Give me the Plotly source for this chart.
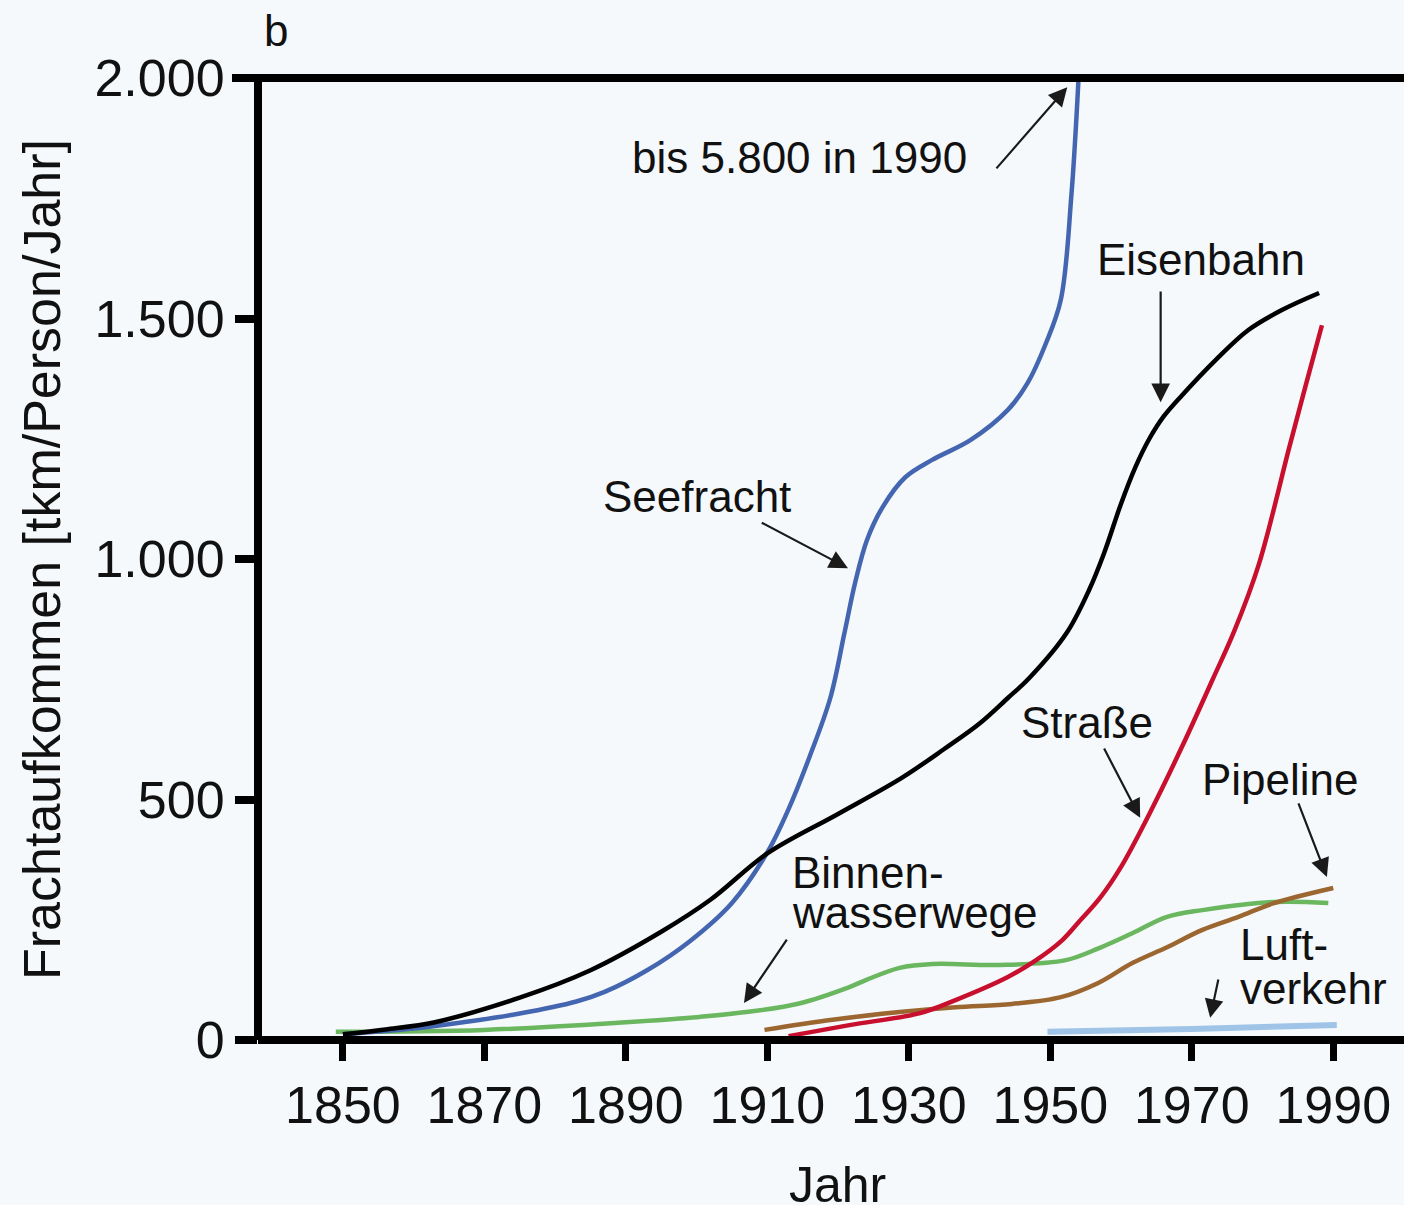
import plotly.graph_objects as go

# ---------------- data ----------------
see_years = [1850, 1860, 1867, 1875, 1883, 1887, 1893, 1899, 1905, 1910, 1913, 1916, 1918.9, 1920.9,
             1922.4, 1924.1, 1926.3, 1929.5, 1933.3, 1938.7, 1944, 1946.8, 1949.4, 1951.5, 1953, 1954, 1955]
see_vals = [12, 24, 37, 55, 80, 100, 145, 205, 285, 390, 480, 590, 711, 846,
            950, 1040, 1108, 1170, 1206, 1247, 1310, 1366, 1449, 1540, 1760, 2000, 2300]

bahn_years = [1850, 1856, 1863, 1875, 1885, 1895, 1902, 1910, 1920, 1929, 1935, 1940,
              1944, 1947, 1952.3, 1955.5, 1957.6, 1960, 1962, 1964, 1966, 1968.6, 1973.4, 1978,
              1982.8, 1988]
bahn_vals = [12, 22, 37, 88, 145, 225, 292, 388, 470, 545, 605, 658,
             711, 752, 846, 936, 1012, 1115, 1190, 1250, 1296, 1340, 1414, 1476,
             1518, 1553]

str_years = [1913, 1921.6, 1931.6, 1936.6, 1944, 1948, 1951.5, 1954, 1957, 1960, 1964,
             1968.6, 1972.9, 1976, 1979.5, 1983.8, 1986.2, 1988.4]
str_vals = [8, 31, 56, 83, 131, 166, 205, 245, 295, 360, 470,
            609, 748, 850, 990, 1233, 1366, 1486]

pipe_years = [1909.6, 1919.2, 1928.7, 1936.6, 1944.6, 1951.5, 1956.7, 1961.6, 1966.5, 1971.5,
              1976.6, 1981.5, 1990]
pipe_vals = [21, 42, 58, 68, 75, 89, 118, 160, 193, 229, 256, 284, 316]

binnen_years = [1849, 1870, 1890, 1900.4, 1907, 1914.5, 1921.6, 1924, 1928.7, 1933.4, 1942.8,
                1952.2, 1956.9, 1961.6, 1966.5, 1971.5, 1981.5, 1989.3]
binnen_vals = [17, 21, 37, 48, 58, 76, 110, 125, 150, 158, 156,
               166, 191, 222, 256, 270, 287, 285]

luft_years = [1949.6, 1970, 1990.5]
luft_vals = [17, 23, 31]

x_tickvals = [1850, 1870, 1890, 1910, 1930, 1950, 1970, 1990]
x_ticktext = ["1850", "1870", "1890", "1910", "1930", "1950", "1970", "1990"]
y_tickvals = [0, 500, 1000, 1500, 2000]
y_ticktext = ["0", "500", "1.000", "1.500", "2.000"]

FONT = "Liberation Sans, Arial, sans-serif"
TXT = "#111111"
BG = "#f5f9fc"

fig = go.Figure()

def add_line(xs, ys, color, width=4.5):
    fig.add_trace(go.Scatter(x=xs, y=ys, mode="lines",
                             line=dict(color=color, width=width, shape="spline", smoothing=1.0),
                             showlegend=False, hoverinfo="skip"))

add_line(luft_years, luft_vals, "#9fc4e8", 6)
add_line(binnen_years, binnen_vals, "#6ab760")
add_line(pipe_years, pipe_vals, "#9c6630")
add_line(str_years, str_vals, "#c8102e")
add_line(see_years, see_vals, "#4466b0")
add_line(bahn_years, bahn_vals, "#000000")

# axis lines drawn as shapes
shapes = [
    dict(type="line", xref="paper", yref="paper", x0=-0.0227, x1=1, y0=1, y1=1,
         line=dict(color="black", width=8), layer="above"),
    dict(type="line", xref="paper", yref="paper", x0=0, x1=1, y0=0, y1=0,
         line=dict(color="black", width=8), layer="above"),
    dict(type="line", xref="paper", yref="paper", x0=0, x1=0, y0=0, y1=1,
         line=dict(color="black", width=8), layer="above"),
]

annotations = []

def label(text, x, y, xanchor="center"):
    annotations.append(dict(text=text, x=x, y=y, xref="x", yref="y", showarrow=False,
                            xanchor=xanchor, yanchor="middle",
                            font=dict(family=FONT, size=44, color=TXT)))

def arrow(tx, ty, hx, hy):
    annotations.append(dict(text="", x=hx, y=hy, ax=tx, ay=ty, xref="x", yref="y",
                            axref="x", ayref="y", showarrow=True, arrowhead=2,
                            arrowsize=1.7, arrowwidth=2.2, arrowcolor="#1a1a1a", standoff=0))

label("bis 5.800 in 1990", 1914.6, 1834)
label("Seefracht", 1900.1, 1129)
label("Eisenbahn", 1971.3, 1622)
label("Straße", 1955.2, 661)
label("Pipeline", 1982.5, 541)
label("Binnen-", 1913.2, 349, "left")
label("wasserwege", 1913.2, 266, "left")
label("Luft-", 1976.6, 198, "left")
label("verkehr", 1976.6, 108, "left")

arrow(1942.2, 1809, 1952.4, 1981)
arrow(1965.6, 1559, 1965.6, 1326)
arrow(1909.0, 1077, 1921.4, 981)
arrow(1957.5, 609, 1962.7, 462)
arrow(1985.0, 495, 1989.1, 339)
arrow(1912.9, 212, 1906.7, 77)
arrow(1973.8, 129, 1972.6, 46)

annotations.append(dict(text="b", x=0.0157, y=1.049, xref="paper", yref="paper",
                        showarrow=False, xanchor="center", yanchor="middle",
                        font=dict(family=FONT, size=44, color=TXT)))
annotations.append(dict(text="Frachtaufkommen [tkm/Person/Jahr]", x=-0.1885, y=0.5,
                        xref="paper", yref="paper", showarrow=False, textangle=-90,
                        xanchor="center", yanchor="middle",
                        font=dict(family=FONT, size=52, color=TXT)))
annotations.append(dict(text="Jahr", x=0.506, y=-0.1507, xref="paper", yref="paper",
                        showarrow=False, xanchor="center", yanchor="middle",
                        font=dict(family=FONT, size=50, color=TXT)))

fig.update_layout(
    width=1404, height=1205,
    margin=dict(l=258, r=0, t=78, b=165),
    paper_bgcolor=BG, plot_bgcolor=BG,
    shapes=shapes, annotations=annotations,
    xaxis=dict(range=[1838, 2000], tickvals=x_tickvals, ticktext=x_ticktext,
               ticks="outside", ticklen=20, tickwidth=7, tickcolor="black",
               showgrid=False, zeroline=False, showline=False,
               tickfont=dict(family=FONT, size=52, color=TXT)),
    yaxis=dict(range=[0, 2000], tickvals=y_tickvals, ticktext=y_ticktext,
               ticks="outside", ticklen=22, tickwidth=8, tickcolor="black",
               showgrid=False, zeroline=False, showline=False,
               tickfont=dict(family=FONT, size=52, color=TXT)),
)

fig.write_html("out.html",
               config={"displayModeBar": False},
               post_script="document.body.style.margin='0';document.body.style.padding='0';"
                           "document.body.style.overflow='hidden';"
                           "document.body.style.background='" + BG + "';")
